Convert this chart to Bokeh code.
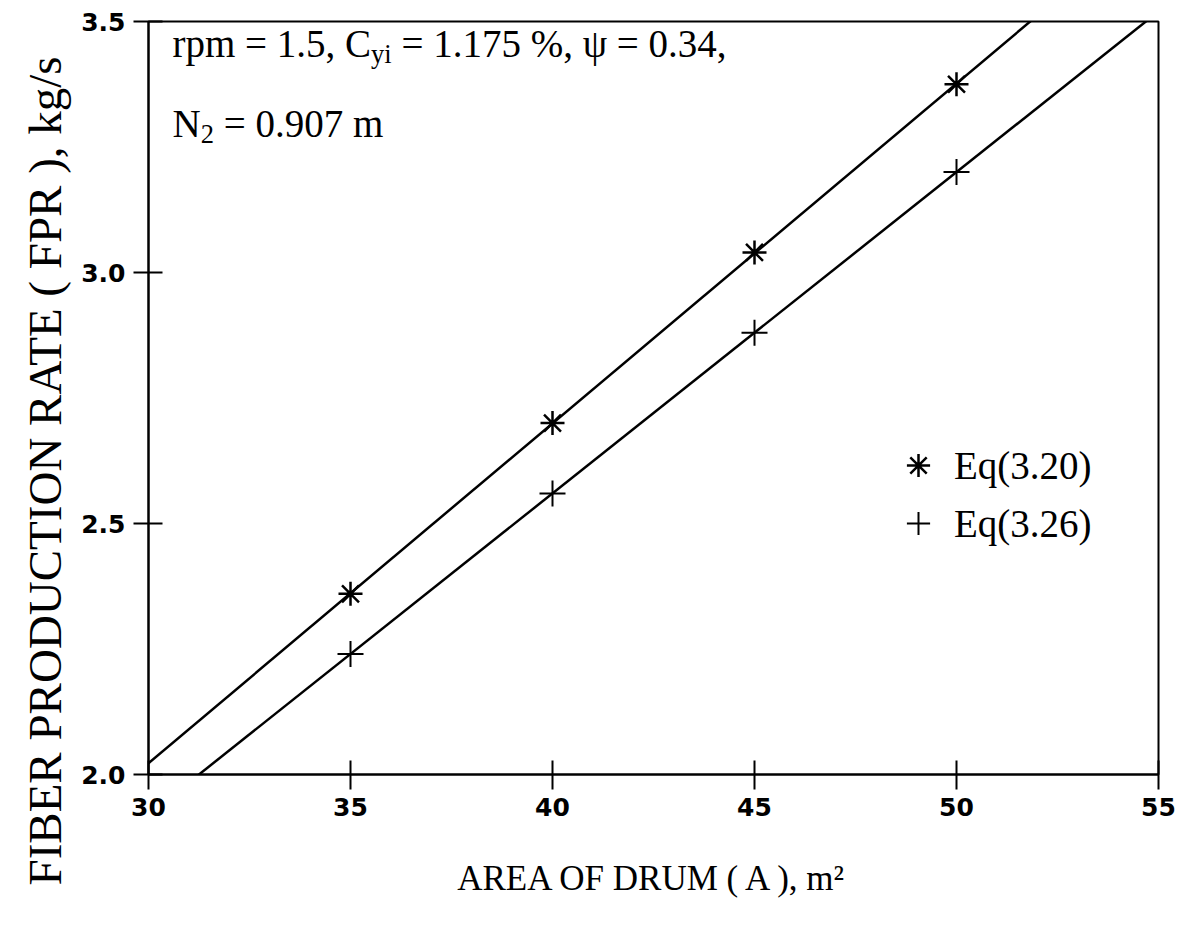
import numpy as np
from bokeh.plotting import figure
from bokeh.models import Range1d, Label, Legend, LegendItem, FixedTicker, Title
from bokeh.embed import file_html
from bokeh.resources import INLINE

# ---- data ----
area = [35, 40, 45, 50]
fpr_eq320 = [2.36, 2.70, 3.04, 3.375]
fpr_eq326 = [2.24, 2.56, 2.88, 3.20]
x_ticks = [30, 35, 40, 45, 50, 55]
x_tick_labels = ["30", "35", "40", "45", "50", "55"]
y_ticks = [2.0, 2.5, 3.0, 3.5]
y_tick_labels = ["2.0", "2.5", "3.0", "3.5"]
series_names = ["Eq(3.20)", "Eq(3.26)"]

X0, X1 = 30, 55
Y0, Y1 = 2.0, 3.5

SERIF = "Liberation Serif"
SANS = "DejaVu Sans"
NB = "\u00a0"

p = figure(width=1188, height=927, x_range=Range1d(X0, X1), y_range=Range1d(Y0, Y1),
           output_backend="svg", toolbar_location=None,
           min_border_left=148, min_border_right=30, min_border_top=21, min_border_bottom=153)
p.grid.visible = False
p.outline_line_color = "black"
p.outline_line_width = 2
p.background_fill_color = "white"
p.border_fill_color = "white"

for ax in (p.xaxis[0], p.yaxis[0]):
    ax.axis_line_width = 2
    ax.major_tick_line_width = 2
    ax.major_tick_in = 14
    ax.major_tick_out = 15
    ax.minor_tick_in = 0
    ax.minor_tick_out = 0
    ax.major_label_text_font = SANS
    ax.major_label_text_font_style = "bold"
    ax.major_label_text_font_size = "25px"
    ax.major_label_text_color = "black"
    ax.major_label_standoff = 8
    ax.axis_label_text_font = SERIF
    ax.axis_label_text_font_style = "normal"
    ax.axis_label_text_color = "black"

p.xaxis.ticker = FixedTicker(ticks=x_ticks)
p.yaxis.ticker = FixedTicker(ticks=y_ticks)
p.xaxis.major_label_overrides = {t: l for t, l in zip(x_ticks, x_tick_labels)}
p.yaxis.major_label_overrides = {t: l for t, l in zip(y_ticks, y_tick_labels)}

p.xaxis.axis_label = "AREA OF DRUM ( A ), m\u00b2"
p.xaxis.axis_label_text_font_size = "35px"
p.xaxis.axis_label_standoff = 40

# y title as a side title, started below the frame bottom like the reference
p.add_layout(Title(text="FIBER PRODUCTION RATE ( FPR ), kg/s", align="left", offset=-111,
                   text_font=SERIF, text_font_style="normal", text_font_size="47px",
                   text_color="black", standoff=16), "left")

# regression lines through each series, across the full x range
xs_line = np.array([X0, X1], dtype=float)
for ys in (fpr_eq320, fpr_eq326):
    k, b = np.polyfit(area, ys, 1)
    p.line(xs_line, k * xs_line + b, line_color="black", line_width=2.5)

r1 = p.scatter(area, fpr_eq320, marker="asterisk", size=24, line_color="black", line_width=2.5)
r2 = p.scatter(area, fpr_eq326, marker="cross", size=26, line_color="black", line_width=2)

legend = Legend(items=[LegendItem(label=series_names[0], renderers=[r1]),
                       LegendItem(label=series_names[1], renderers=[r2])],
                location=(740, 222), orientation="vertical",
                label_text_font=SERIF, label_text_font_size="39px", label_text_color="black",
                glyph_width=60, glyph_height=58, label_height=58, spacing=0,
                label_standoff=6, padding=0, margin=0,
                border_line_color=None, background_fill_alpha=0)
p.add_layout(legend)

# Times-like advance widths (per 1000 em) for composing runs with sub/superscripts
W = {' ': 250, NB: 250, '=': 564, '.': 250, ',': 250, '%': 833, 'r': 333, 'p': 500, 'm': 778,
     'C': 667, 'y': 500, 'i': 278, 'N': 722, '\u03c8': 690}
for d in "0123456789":
    W[d] = 500


def width(s, size):
    return sum(W.get(c, 500) for c in s) * size / 1000.0


def runs(parts, x_off, y_off, size):
    x = x_off
    for txt, kind in parts:
        fs = size if kind == "n" else size * 0.68
        dy = 0 if kind == "n" else -size * 0.28
        p.add_layout(Label(x=X0, y=Y1, x_offset=x, y_offset=y_off + dy, text=txt,
                           text_font=SERIF, text_font_size=f"{fs:.1f}px",
                           text_align="left", text_baseline="alphabetic", text_color="black"))
        x += width(txt, fs)


FS = 39
runs([("rpm = 1.5, C", "n"), ("yi", "s"), (NB + "= 1.175 %, \u03c8 = 0.34,", "n")], 24, -22, FS)
runs([("N", "n"), ("2", "s"), (NB + "= 0.907 m", "n")], 24, -102, FS)

open("out.html", "w").write(file_html(p, INLINE))
